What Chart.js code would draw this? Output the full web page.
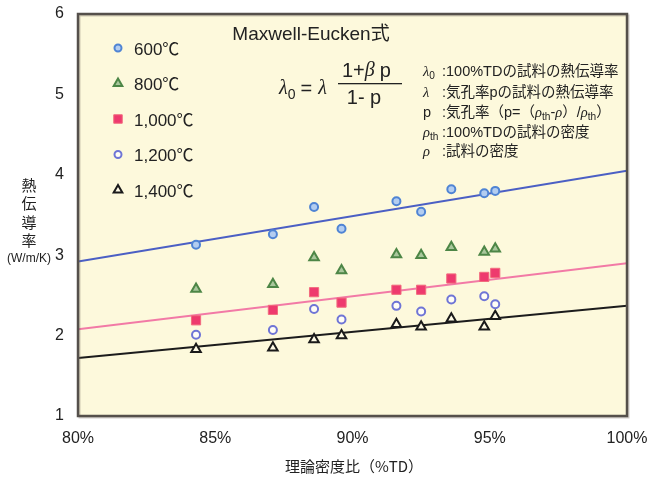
<!DOCTYPE html>
<html>
<head>
<meta charset="utf-8">
<script src="https://cdn.jsdelivr.net/npm/chart.js@4"></script>
<style>
  html, body { margin: 0; padding: 0; background: #fff; }
  canvas { display: block; }
</style>
</head>
<body>
<canvas id="chart" width="647" height="480"></canvas>
<script>
// theoretical density ratio (%TD) of the samples
const tdPercent = [84.3, 87.1, 88.6, 89.6, 91.6, 92.5, 93.6, 94.8, 95.2];

// thermal conductivity (W/m/K) per sintering temperature
const k600 = [3.13, 3.26, 3.60, 3.33, 3.67, 3.54, 3.82, 3.77, 3.80];
const k800 = [2.58, 2.64, 2.97, 2.81, 3.01, 3.00, 3.10, 3.04, 3.08];
const k1000 = [2.19, 2.32, 2.54, 2.41, 2.57, 2.57, 2.71, 2.73, 2.78];
const k1200 = [2.01, 2.07, 2.33, 2.20, 2.37, 2.30, 2.45, 2.49, 2.39];
const k1400 = [1.83, 1.85, 1.95, 2.00, 2.14, 2.11, 2.21, 2.11, 2.24];

// Maxwell-Eucken fitted lines (ends at 80% and 100%)
const fitX = [80, 100];
const fitBlue = [2.92, 4.05];
const fitPink = [2.08, 2.90];
const fitBlack = [1.72, 2.37];

const seriesLabels = ['600℃', '800℃', '1,000℃', '1,200℃', '1,400℃'];
const xTicks = [80, 85, 90, 95, 100];
const yTicks = [1, 2, 3, 4, 5, 6];

const SANS = '"Liberation Sans", "Noto Sans CJK JP", sans-serif';
const JP = '"Noto Sans CJK JP", sans-serif';

function toPoints(xs, ys) {
  return xs.map((x, i) => ({ x: x, y: ys[i] }));
}

function fitLine(ys, color) {
  return {
    type: 'line',
    data: toPoints(fitX, ys),
    borderColor: color,
    borderWidth: 2,
    pointRadius: 0,
    fill: false,
    order: 2,
    isFit: true,
  };
}

// draw text made of parts: {t, sub, italic, serif, gap}
function drawRich(ctx, x, y, parts, size) {
  let cx = x;
  parts.forEach((p) => {
    const fs = p.sub ? size * 0.7 : size;
    const fam = p.serif ? '"Liberation Serif", serif' : SANS;
    ctx.font = (p.italic ? 'italic ' : '') + fs + 'px ' + fam;
    ctx.fillText(p.t, cx, p.sub ? y + size * 0.3 : y);
    cx += ctx.measureText(p.t).width + (p.gap || 0);
  });
}

const decor = {
  id: 'decor',
  beforeDraw(chart) {
    const { ctx, chartArea: a } = chart;
    ctx.save();
    ctx.fillStyle = '#fff';
    ctx.fillRect(0, 0, chart.width, chart.height);
    ctx.fillStyle = '#fdf9dc';
    ctx.fillRect(a.left, a.top, a.right - a.left, a.bottom - a.top);
    ctx.restore();
  },
  afterDraw(chart) {
    const { ctx, chartArea: a } = chart;
    ctx.save();
    // frame with soft shadow
    ctx.strokeStyle = 'rgba(120,110,100,0.35)';
    ctx.lineWidth = 2;
    ctx.strokeRect(a.left + 1.5, a.top + 1.5, a.right - a.left, a.bottom - a.top);
    ctx.strokeStyle = '#55504b';
    ctx.lineWidth = 2.5;
    ctx.strokeRect(a.left, a.top, a.right - a.left, a.bottom - a.top);

    // legend
    ctx.textBaseline = 'middle';
    ctx.textAlign = 'left';
    const sets = chart.data.datasets.filter((d) => !d.isFit);
    sets.forEach((d, i) => {
      const y = 48 + i * 35.5;
      ctx.fillStyle = d.backgroundColor;
      ctx.strokeStyle = d.borderColor;
      ctx.lineWidth = d.borderWidth;
      Chart.helpers.drawPoint(ctx, {
        pointStyle: d.pointStyle,
        radius: d.pointRadius - 0.5,
        borderWidth: d.borderWidth,
      }, 118, y);
      ctx.fillStyle = '#222';
      ctx.font = '17px ' + SANS;
      ctx.fillText(d.label, 134, y + 2);
    });

    // title
    ctx.fillStyle = '#222';
    ctx.textAlign = 'center';
    ctx.font = '19px ' + SANS;
    ctx.fillText('Maxwell-Eucken式', 311, 35);

    // formula
    ctx.textAlign = 'left';
    drawRich(ctx, 279, 89, [
      { t: 'λ', italic: true, serif: true },
      { t: '0', sub: true, gap: 5 },
      { t: '=', gap: 6 },
      { t: 'λ', italic: true, serif: true },
    ], 20);
    drawRich(ctx, 342, 71, [
      { t: '1+' },
      { t: 'β', italic: true, serif: true, gap: 5 },
      { t: 'p' },
    ], 20);
    ctx.fillStyle = '#222';
    ctx.fillRect(338, 83, 64, 1.3);
    ctx.textAlign = 'center';
    ctx.font = '20px ' + SANS;
    ctx.fillText('1- p', 364, 98);

    // variable notes
    ctx.textAlign = 'left';
    const sz = 14.5;
    const rowsY = [72, 93, 113, 133, 152];
    const notes = [
      [[{ t: 'λ', italic: true, serif: true }, { t: '0', sub: true }], ':100%TDの試料の熱伝導率'],
      [[{ t: 'λ', italic: true, serif: true }], ':気孔率pの試料の熱伝導率'],
      [[{ t: 'p' }], null],
      [[{ t: 'ρ', italic: true, serif: true }, { t: 'th', sub: true }], ':100%TDの試料の密度'],
      [[{ t: 'ρ', italic: true, serif: true }], ':試料の密度'],
    ];
    notes.forEach((n, i) => {
      const y = rowsY[i];
      ctx.fillStyle = '#222';
      drawRich(ctx, 423, y, n[0], sz);
      if (n[1]) {
        ctx.font = sz + 'px ' + SANS;
        ctx.fillText(n[1], 442, y);
      } else {
        drawRich(ctx, 442, y, [
          { t: ':気孔率（p=（' },
          { t: 'ρ', italic: true, serif: true },
          { t: 'th', sub: true },
          { t: '-' },
          { t: 'ρ', italic: true, serif: true },
          { t: '）/' },
          { t: 'ρ', italic: true, serif: true },
          { t: 'th', sub: true },
          { t: '）' },
        ], sz);
      }
    });

    // y axis title, stacked
    ctx.textAlign = 'center';
    ctx.font = '15px ' + JP;
    ['熱', '伝', '導', '率'].forEach((c, i) => {
      ctx.fillText(c, 29, 185 + i * 18.5);
    });
    ctx.font = '12px ' + SANS;
    ctx.fillText('(W/m/K)', 29, 259);

    // x axis title
    ctx.font = '15px ' + JP;
    ctx.fillText('理論密度比（%TD）', 354, 466);
    ctx.restore();
  },
};

new Chart(document.getElementById('chart'), {
  type: 'scatter',
  data: {
    datasets: [
      {
        label: seriesLabels[0],
        data: toPoints(tdPercent, k600),
        pointStyle: 'circle',
        pointRadius: 4,
        backgroundColor: '#b3cdf0',
        borderColor: '#4f84d4',
        borderWidth: 2,
        order: 1,
      },
      {
        label: seriesLabels[1],
        data: toPoints(tdPercent, k800),
        pointStyle: 'triangle',
        pointRadius: 5.5,
        backgroundColor: '#a9c79c',
        borderColor: '#4d8646',
        borderWidth: 2,
        order: 1,
      },
      {
        label: seriesLabels[2],
        data: toPoints(tdPercent, k1000),
        pointStyle: 'rect',
        pointRadius: 6.5,
        backgroundColor: '#ee3a6e',
        borderColor: '#f26b7e',
        borderWidth: 1,
        order: 1,
      },
      {
        label: seriesLabels[3],
        data: toPoints(tdPercent, k1200),
        pointStyle: 'circle',
        pointRadius: 4,
        backgroundColor: 'rgba(255,255,255,0.7)',
        borderColor: '#6f75d6',
        borderWidth: 2,
        order: 1,
      },
      {
        label: seriesLabels[4],
        data: toPoints(tdPercent, k1400),
        pointStyle: 'triangle',
        pointRadius: 5.5,
        backgroundColor: '#fffbe6',
        borderColor: '#1a1a1a',
        borderWidth: 2,
        order: 1,
      },
      fitLine(fitBlue, '#4b5fc4'),
      fitLine(fitPink, '#f27aa6'),
      fitLine(fitBlack, '#1c1c1c'),
    ],
  },
  options: {
    responsive: false,
    animation: false,
    layout: { padding: { top: 14, right: 20, left: 0, bottom: 0 } },
    plugins: {
      legend: { display: false },
      tooltip: { enabled: false },
    },
    scales: {
      x: {
        type: 'linear',
        min: 80,
        max: 100,
        afterBuildTicks: (s) => { s.ticks = xTicks.map((v) => ({ value: v })); },
        afterFit: (s) => { s.height = 64; s.paddingLeft = 0; s.paddingRight = 0; },
        grid: { display: false },
        border: { display: false },
        ticks: {
          color: '#222',
          font: { family: SANS, size: 16 },
          padding: 5,
          callback: (v) => v + '%',
        },
      },
      y: {
        min: 1,
        max: 6,
        afterBuildTicks: (s) => { s.ticks = yTicks.map((v) => ({ value: v })); },
        afterFit: (s) => { s.width = 78; s.paddingTop = 0; s.paddingBottom = 0; },
        grid: { display: false },
        border: { display: false },
        ticks: {
          color: '#222',
          font: { family: SANS, size: 16 },
          padding: 6,
        },
      },
    },
  },
  plugins: [decor],
});
</script>
</body>
</html>
